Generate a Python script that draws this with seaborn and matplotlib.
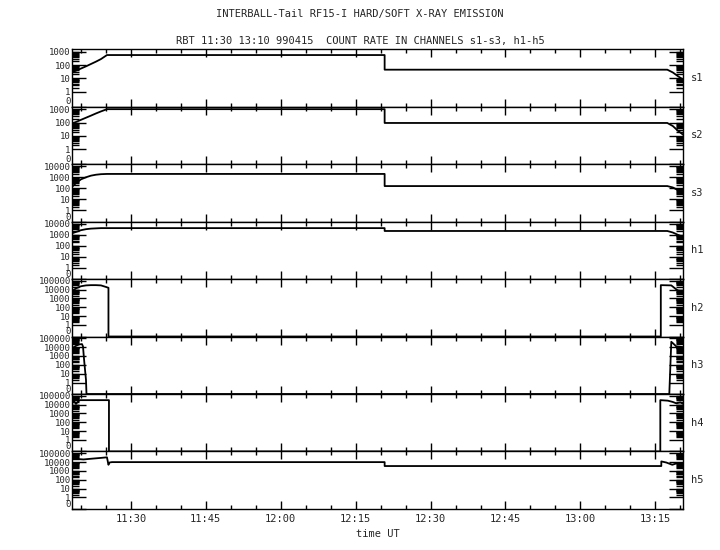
import numpy as np
import pandas as pd
import seaborn as sns
import matplotlib
matplotlib.use('Agg')
import matplotlib.pyplot as plt
from matplotlib.ticker import FixedLocator, FixedFormatter, MultipleLocator, FuncFormatter

# channel names, top decade of each panel and the size of the 0..1 band (in decades)
channels = ['s1', 's2', 's3', 'h1', 'h2', 'h3', 'h4', 'h5']
top_decade = [3, 3, 4, 4, 5, 5, 5, 5]
lin_band = [1.1, 1.1, 1.0, 1.0, 1.3, 1.3, 1.3, 1.3]

# time in minutes after 11:00 UT, count rates
s1_t = [18.3, 19.0, 20.0, 21.0, 22.0, 23.0, 24.0, 25.2, 80.8, 80.8, 137.4, 138.5, 139.5, 140.6]
s1_v = [30, 38, 55, 80, 120, 180, 280, 560, 560, 45, 45, 28, 15, 8]

s2_t = [18.3, 19.0, 20.0, 21.0, 22.0, 23.0, 24.0, 25.2, 80.8, 80.8, 137.4, 138.5, 139.5, 140.6]
s2_v = [90, 110, 160, 230, 330, 480, 680, 1000, 1000, 93, 93, 55, 25, 12]

s3_t = [18.3, 19.0, 20.0, 21.0, 22.0, 23.0, 24.0, 25.2, 80.8, 80.8, 137.4, 138.5, 139.5, 140.6]
s3_v = [150, 300, 650, 1000, 1400, 1700, 1900, 2000, 2000, 160, 160, 120, 70, 40]

h1_t = [18.3, 19.0, 20.0, 21.0, 22.0, 23.0, 24.0, 25.2, 80.8, 80.8, 137.4, 138.5, 139.5, 140.6]
h1_v = [1400, 1800, 2600, 3200, 3600, 3800, 4000, 4000, 4000, 2200, 2200, 1600, 1000, 630]

h2_t = [18.3, 19.0, 20.0, 21.0, 22.0, 23.0, 24.0, 25.0, 25.5, 25.5, 136.1, 136.1, 138.2, 138.8, 139.5, 140.6]
h2_v = [7000, 14000, 24000, 30000, 32000, 32000, 30000, 20000, 16000, 0, 0, 32000, 30000, 16000, 8000, 5000]

h3_t = [18.3, 19.0, 19.6, 20.2, 20.4, 20.6, 20.8, 21.0, 21.1, 137.8, 138.2, 138.6, 139.2, 140.6]
h3_v = [8000, 14000, 20000, 22000, 12000, 500, 30, 2, 0, 0, 40000, 25000, 12000, 10000]

h4_t = [18.3, 18.6, 19.0, 19.4, 19.8, 22.0, 25.6, 25.6, 136.0, 136.0, 137.5, 138.5, 139.2, 140.0, 140.6]
h4_v = [16000, 24000, 12000, 22000, 32000, 32000, 32000, 0, 0, 32000, 28000, 20000, 14000, 18000, 12000]

h5_t = [18.3, 19.5, 20.5, 22.0, 24.0, 25.2, 25.5, 25.7, 26.2, 80.8, 80.8, 136.2, 136.2, 137.2, 138.4, 139.5, 140.6]
h5_v = [30000, 22000, 20000, 24000, 30000, 35000, 5000, 9000, 10000, 10000, 3600, 3600, 12000, 9000, 5000, 8000, 7000]

series = [(s1_t, s1_v), (s2_t, s2_v), (s3_t, s3_v), (h1_t, h1_v),
          (h2_t, h2_v), (h3_t, h3_v), (h4_t, h4_v), (h5_t, h5_v)]

sns.set_style('ticks')
plt.rcParams['font.family'] = ['DejaVu Sans Mono', 'DejaVu Sans']
plt.rcParams['font.size'] = 7.5

fig, axes = plt.subplots(8, 1, figsize=(7.2, 5.5), dpi=100, sharex=True,
                         gridspec_kw={'hspace': 0})
fig.subplots_adjust(left=0.1, right=0.949, top=1 - 49 / 550, bottom=1 - 509 / 550)

def hhmm(x, pos):
    return '%d:%02d' % (11 + int(x) // 60, int(x) % 60)

for ax, name, top, band, (t, v) in zip(axes, channels, top_decade, lin_band, series):
    df = pd.DataFrame({'t': t, 'v': v})
    sns.lineplot(data=df, x='t', y='v', ax=ax, color='black', lw=1.3,
                 estimator=None, sort=False)
    ax.set_yscale('symlog', linthresh=1, linscale=band * 0.9)
    ax.set_ylim(0, 10 ** (top + 0.2))
    major = [0] + [10 ** k for k in range(top + 1)]
    ax.yaxis.set_major_locator(FixedLocator(major))
    ax.yaxis.set_major_formatter(FixedFormatter([str(m) for m in major]))
    minor = [m * 10 ** k for k in range(top + 1) for m in range(2, 10)]
    ax.yaxis.set_minor_locator(FixedLocator(minor))
    ax.set_xlim(18.2, 140.6)
    ax.xaxis.set_major_locator(MultipleLocator(15))
    ax.xaxis.set_minor_locator(MultipleLocator(5))
    ax.tick_params(which='both', direction='in', left=True, right=True, top=True, bottom=True,
                   color='black', width=1)
    ax.tick_params(which='major', axis='y', length=10, pad=1, labelsize=6.5)
    ax.tick_params(which='minor', axis='y', length=5)
    ax.tick_params(which='major', axis='x', length=6)
    ax.tick_params(which='minor', axis='x', length=3)
    ax.set_xlabel('')
    ax.set_ylabel('')
    for sp in ax.spines.values():
        sp.set_color('black')
        sp.set_linewidth(1)
    ax.text(1.013, 0.5, name, transform=ax.transAxes, va='center', ha='left')

fig.canvas.draw()
for ax in axes:
    labels = ax.get_yticklabels()
    labels[0].set_va('bottom')

axes[-1].xaxis.set_major_formatter(FuncFormatter(hhmm))
axes[-1].set_xlabel('time UT', labelpad=4)

fig.text(0.5, 1 - 14 / 550, 'INTERBALL-Tail RF15-I HARD/SOFT X-RAY EMISSION', ha='center', va='center')
fig.text(0.5, 1 - 41 / 550, 'RBT 11:30 13:10 990415  COUNT RATE IN CHANNELS s1-s3, h1-h5',
         ha='center', va='center')

fig.savefig('out.png', dpi=100, facecolor='white')
